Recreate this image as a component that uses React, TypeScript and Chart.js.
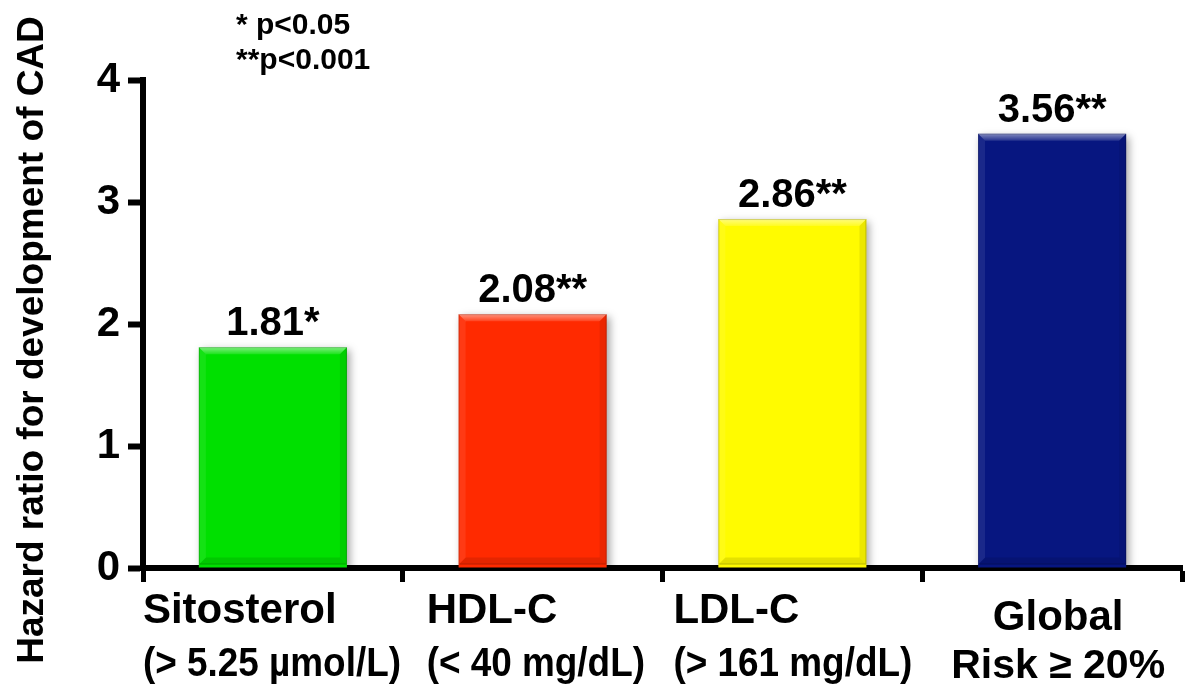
import { useEffect, useRef } from 'react';
import { Chart, registerables } from 'chart.js';

Chart.register(...registerables);

// Risk factors and their hazard ratios for development of CAD
const categories = ['Sitosterol', 'HDL-C', 'LDL-C', 'Global'];
const criteria = ['(> 5.25 µmol/L)', '(< 40 mg/dL)', '(> 161 mg/dL)', 'Risk ≥ 20%'];
const hazardRatios = [1.81, 2.08, 2.86, 3.56];
const significance = ['*', '**', '**', '**'];
const yTickValues = [0, 1, 2, 3, 4];
const footnotes = ['* p<0.05', '**p<0.001'];
const axisTitle = 'Hazard ratio for development of CAD';

const barColors = ['#00E000', '#FF2A00', '#FFFB00', '#071680'];

const FONT = "'Liberation Sans', Arial, Helvetica, sans-serif";

// Placement of the two-line category captions under each bar
const captionLayout = [
  { align: 'left', dx: -130, base1: 623, base2: 676, squeeze2: 0.9 },
  { align: 'left', dx: -106, base1: 623, base2: 676, squeeze2: 0.9 },
  { align: 'left', dx: -119, base1: 623, base2: 676, squeeze2: 0.9 },
  { align: 'center', dx: 6, base1: 630, base2: 678, squeeze2: 1 },
];

function drawBevel(ctx: CanvasRenderingContext2D, l: number, r: number, t: number, b: number) {
  const bev = 7;
  const poly = (pts: number[][], fill: string | CanvasGradient) => {
    ctx.beginPath();
    ctx.moveTo(pts[0][0], pts[0][1]);
    for (let k = 1; k < pts.length; k++) ctx.lineTo(pts[k][0], pts[k][1]);
    ctx.closePath();
    ctx.fillStyle = fill;
    ctx.fill();
  };
  const topGrad = ctx.createLinearGradient(0, t, 0, t + bev);
  topGrad.addColorStop(0, 'rgba(255,255,255,0.5)');
  topGrad.addColorStop(1, 'rgba(255,255,255,0.12)');
  poly([[l, t], [r, t], [r - bev, t + bev], [l + bev, t + bev]], topGrad);
  poly([[l, b], [r, b], [r - bev, b - bev], [l + bev, b - bev]], 'rgba(0,0,0,0.1)');
  poly([[l, t], [l + bev, t + bev], [l + bev, b - bev], [l, b]], 'rgba(255,255,255,0.08)');
  poly([[r, t], [r - bev, t + bev], [r - bev, b - bev], [r, b]], 'rgba(0,0,0,0.08)');
  ctx.strokeStyle = 'rgba(0,0,0,0.18)';
  ctx.lineWidth = 1;
  ctx.strokeRect(l + 0.5, t + 0.5, r - l - 1, b - t - 1);
}

const decorPlugin = {
  id: 'decor',
  beforeDatasetsDraw(chart: any) {
    const { ctx } = chart;
    ctx.save();
    ctx.shadowColor = 'rgba(0,0,0,0.35)';
    ctx.shadowBlur = 8;
    ctx.shadowOffsetX = 3;
    ctx.shadowOffsetY = 3;
  },
  afterDatasetsDraw(chart: any) {
    const { ctx } = chart;
    ctx.restore();
    const meta = chart.getDatasetMeta(0);
    meta.data.forEach((bar: any, i: number) => {
      const { x, y, base, width } = bar.getProps(['x', 'y', 'base', 'width'], true);
      ctx.save();
      drawBevel(ctx, x - width / 2, x + width / 2, y, base - 3);
      ctx.restore();

      ctx.save();
      ctx.fillStyle = '#000';
      ctx.font = `bold 40px ${FONT}`;
      ctx.textAlign = 'center';
      ctx.textBaseline = 'alphabetic';
      ctx.fillText(`${hazardRatios[i].toFixed(2)}${significance[i]}`, x, y - 12);
      ctx.restore();
    });
  },
  afterDraw(chart: any) {
    const { ctx } = chart;
    const xScale = chart.scales.x;

    // category captions
    categories.forEach((name, i) => {
      const cx = xScale.getPixelForValue(i);
      const lay = captionLayout[i];
      const ax = cx + lay.dx;
      ctx.save();
      ctx.fillStyle = '#000';
      ctx.textAlign = lay.align;
      ctx.textBaseline = 'alphabetic';
      ctx.font = `bold 42px ${FONT}`;
      ctx.fillText(name, ax, lay.base1);
      ctx.translate(ax, lay.base2);
      ctx.scale(lay.squeeze2, 1);
      ctx.font = `bold 41px ${FONT}`;
      ctx.fillText(criteria[i], 0, 0);
      ctx.restore();
    });

    // y-axis title
    ctx.save();
    ctx.translate(43, 340);
    ctx.rotate(-Math.PI / 2);
    ctx.fillStyle = '#000';
    ctx.font = `bold 37px ${FONT}`;
    ctx.textAlign = 'center';
    ctx.textBaseline = 'alphabetic';
    ctx.fillText(axisTitle, 0, 0);
    ctx.restore();

    // significance key
    ctx.save();
    ctx.fillStyle = '#000';
    ctx.font = `bold 30px ${FONT}`;
    ctx.textAlign = 'left';
    ctx.textBaseline = 'alphabetic';
    footnotes.forEach((line, k) => {
      ctx.fillText(line, 236, 34 + k * 35);
    });
    ctx.restore();
  },
};

export default function App() {
  const canvasRef = useRef<HTMLCanvasElement | null>(null);

  useEffect(() => {
    const canvas = canvasRef.current;
    if (!canvas) return;
    const chart = new Chart(canvas, {
      type: 'bar',
      data: {
        labels: categories,
        datasets: [
          {
            data: hazardRatios,
            backgroundColor: barColors,
            borderWidth: 0,
            barPercentage: 0.57,
            categoryPercentage: 1,
          },
        ],
      },
      options: {
        responsive: false,
        animation: false,
        devicePixelRatio: 1,
        layout: { padding: { top: 80, right: 4, left: 0, bottom: 0 } },
        plugins: {
          legend: { display: false },
          tooltip: { enabled: false },
        },
        scales: {
          x: {
            type: 'category',
            offset: true,
            z: 1,
            grid: {
              display: true,
              offset: true,
              drawOnChartArea: false,
              drawTicks: true,
              tickLength: 14,
              tickWidth: 5,
              tickColor: '#000',
            },
            border: { display: true, color: '#000', width: 6 },
            ticks: { display: false },
            afterFit(scale: any) {
              scale.height = 116;
            },
          },
          y: {
            min: 0,
            max: 4,
            z: 1,
            afterBuildTicks(scale: any) {
              scale.ticks = yTickValues.map((v) => ({ value: v }));
            },
            ticks: {
              color: '#000',
              padding: 8,
              font: { family: FONT, size: 42, weight: 'bold' },
            },
            grid: {
              display: true,
              drawOnChartArea: false,
              drawTicks: true,
              tickLength: 15,
              tickWidth: 6,
              tickColor: '#000',
            },
            border: { display: true, color: '#000', width: 6 },
            afterFit(scale: any) {
              scale.width = 143;
            },
          },
        },
      },
      plugins: [decorPlugin],
    } as any);
    return () => chart.destroy();
  }, []);

  return (
    <div style={{ position: 'absolute', left: 0, top: 0, width: 1186, height: 684, background: '#fff' }}>
      <canvas ref={canvasRef} width={1186} height={684} style={{ display: 'block' }} />
    </div>
  );
}
